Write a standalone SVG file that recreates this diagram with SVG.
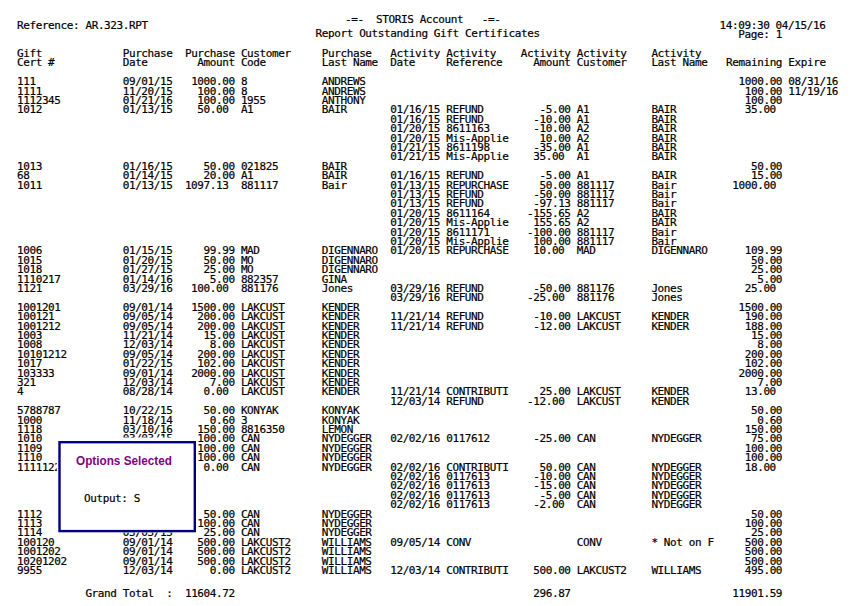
<svg xmlns="http://www.w3.org/2000/svg" width="858" height="606" viewBox="0 0 858 606">
<style>
.m{font-family:"DejaVu Sans Mono","Liberation Mono",monospace;font-size:11px;letter-spacing:-0.4px;fill:#000;stroke:#000;stroke-width:0.2px}
.r{text-anchor:end}
.ttl{font-family:"Liberation Sans",Arial,sans-serif;font-size:13px;font-weight:bold;fill:#800080}
</style>
<rect width="858" height="606" fill="#fff"/>
<g id="header">
<text class="m" x="17" y="28.8">Reference: AR.323.RPT</text>
<text class="m" x="345" y="23">-=-</text>
<text class="m" x="376.1" y="23">STORIS Account</text>
<text class="m" x="481.8" y="23">-=-</text>
<text class="m" x="315.6" y="37.2">Report Outstanding Gift Certificates</text>
<text class="m" x="719.6" y="28.8">14:09:30 04/15/16</text>
<text class="m" x="738.3" y="37.5">Page: 1</text>
</g>
<g id="column-headers">
<text class="m"><tspan x="17" y="57">Gift</tspan><tspan x="17" y="66.2">Cert #</tspan></text>
<text class="m"><tspan x="122.7" y="57">Purchase</tspan><tspan x="122.7" y="66.2">Date</tspan></text>
<text class="m r"><tspan x="234.7" y="57">Purchase</tspan><tspan x="234.7" y="66.2">Amount</tspan></text>
<text class="m"><tspan x="240.9" y="57">Customer</tspan><tspan x="240.9" y="66.2">Code</tspan></text>
<text class="m"><tspan x="321.8" y="57">Purchase</tspan><tspan x="321.8" y="66.2">Last Name</tspan></text>
<text class="m"><tspan x="390.2" y="57">Activity</tspan><tspan x="390.2" y="66.2">Date</tspan></text>
<text class="m"><tspan x="446.2" y="57">Activity</tspan><tspan x="446.2" y="66.2">Reference</tspan></text>
<text class="m r"><tspan x="570.6" y="57">Activity</tspan><tspan x="570.6" y="66.2">Amount</tspan></text>
<text class="m"><tspan x="576.8" y="57">Activity</tspan><tspan x="576.8" y="66.2">Customer</tspan></text>
<text class="m"><tspan x="651.4" y="57">Activity</tspan><tspan x="651.4" y="66.2">Last Name</tspan></text>
<text class="m"><tspan x="726.1" y="66.2">Remaining</tspan></text>
<text class="m"><tspan x="788.3" y="66.2">Expire</tspan></text>
</g>
<g id="col-cert">
<text class="m">
<tspan x="17" y="85.2">111</tspan><tspan x="17" y="94.6">1111</tspan><tspan x="17" y="104">1112345</tspan><tspan x="17" y="113.4">1012</tspan>
<tspan x="17" y="169.8">1013</tspan><tspan x="17" y="179.2">68</tspan><tspan x="17" y="188.6">1011</tspan>
<tspan x="17" y="254.4">1006</tspan><tspan x="17" y="263.8">1015</tspan><tspan x="17" y="273.2">1018</tspan><tspan x="17" y="282.6">1110217</tspan><tspan x="17" y="292">1121</tspan>
<tspan x="17" y="310.8">1001201</tspan><tspan x="17" y="320.2">100121</tspan><tspan x="17" y="329.6">1001212</tspan><tspan x="17" y="339">1003</tspan><tspan x="17" y="348.4">1008</tspan><tspan x="17" y="357.8">10101212</tspan><tspan x="17" y="367.2">1017</tspan><tspan x="17" y="376.6">103333</tspan><tspan x="17" y="386">321</tspan><tspan x="17" y="395.4">4</tspan>
<tspan x="17" y="414.2">5788787</tspan><tspan x="17" y="423.6">1000</tspan><tspan x="17" y="433">1118</tspan><tspan x="17" y="442.4">1010</tspan><tspan x="17" y="451.8">1109</tspan><tspan x="17" y="461.2">1110</tspan><tspan x="17" y="470.6">1111122</tspan>
<tspan x="17" y="517.6">1112</tspan><tspan x="17" y="527">1113</tspan><tspan x="17" y="536.4">1114</tspan><tspan x="17" y="545.8">100120</tspan><tspan x="17" y="555.2">1001202</tspan><tspan x="17" y="564.6">10201202</tspan><tspan x="17" y="574">9955</tspan>
</text>
</g>
<g id="col-purchase-date">
<text class="m">
<tspan x="122.7" y="85.2">09/01/15</tspan><tspan x="122.7" y="94.6">11/20/15</tspan><tspan x="122.7" y="104">01/21/16</tspan><tspan x="122.7" y="113.4">01/13/15</tspan>
<tspan x="122.7" y="169.8">01/16/15</tspan><tspan x="122.7" y="179.2">01/14/15</tspan><tspan x="122.7" y="188.6">01/13/15</tspan>
<tspan x="122.7" y="254.4">01/15/15</tspan><tspan x="122.7" y="263.8">01/20/15</tspan><tspan x="122.7" y="273.2">01/27/15</tspan><tspan x="122.7" y="282.6">01/14/16</tspan><tspan x="122.7" y="292">03/29/16</tspan>
<tspan x="122.7" y="310.8">09/01/14</tspan><tspan x="122.7" y="320.2">09/05/14</tspan><tspan x="122.7" y="329.6">09/05/14</tspan><tspan x="122.7" y="339">11/21/14</tspan><tspan x="122.7" y="348.4">12/03/14</tspan><tspan x="122.7" y="357.8">09/05/14</tspan><tspan x="122.7" y="367.2">01/22/15</tspan><tspan x="122.7" y="376.6">09/01/14</tspan><tspan x="122.7" y="386">12/03/14</tspan><tspan x="122.7" y="395.4">08/28/14</tspan>
<tspan x="122.7" y="414.2">10/22/15</tspan><tspan x="122.7" y="423.6">11/18/14</tspan><tspan x="122.7" y="433">03/10/16</tspan><tspan x="122.7" y="442.4">03/03/15</tspan>
<tspan x="122.7" y="536.4">05/05/15</tspan><tspan x="122.7" y="545.8">09/01/14</tspan><tspan x="122.7" y="555.2">09/01/14</tspan><tspan x="122.7" y="564.6">09/01/14</tspan><tspan x="122.7" y="574">12/03/14</tspan>
</text>
</g>
<g id="col-purchase-amount">
<text class="m r">
<tspan x="234.7" y="85.2">1000.00</tspan><tspan x="234.7" y="94.6">100.00</tspan><tspan x="234.7" y="104">100.00</tspan><tspan x="234.7" y="113.4">50.00</tspan>
<tspan x="234.7" y="169.8">50.00</tspan><tspan x="234.7" y="179.2">20.00</tspan><tspan x="234.7" y="188.6">1097.13</tspan>
<tspan x="234.7" y="254.4">99.99</tspan><tspan x="234.7" y="263.8">50.00</tspan><tspan x="234.7" y="273.2">25.00</tspan><tspan x="234.7" y="282.6">5.00</tspan><tspan x="234.7" y="292">100.00</tspan>
<tspan x="234.7" y="310.8">1500.00</tspan><tspan x="234.7" y="320.2">200.00</tspan><tspan x="234.7" y="329.6">200.00</tspan><tspan x="234.7" y="339">15.00</tspan><tspan x="234.7" y="348.4">8.00</tspan><tspan x="234.7" y="357.8">200.00</tspan><tspan x="234.7" y="367.2">102.00</tspan><tspan x="234.7" y="376.6">2000.00</tspan><tspan x="234.7" y="386">7.00</tspan><tspan x="234.7" y="395.4">0.00</tspan>
<tspan x="234.7" y="414.2">50.00</tspan><tspan x="234.7" y="423.6">0.60</tspan><tspan x="234.7" y="433">150.00</tspan><tspan x="234.7" y="442.4">100.00</tspan><tspan x="234.7" y="451.8">100.00</tspan><tspan x="234.7" y="461.2">100.00</tspan><tspan x="234.7" y="470.6">0.00</tspan>
<tspan x="234.7" y="517.6">50.00</tspan><tspan x="234.7" y="527">100.00</tspan><tspan x="234.7" y="536.4">25.00</tspan><tspan x="234.7" y="545.8">500.00</tspan><tspan x="234.7" y="555.2">500.00</tspan><tspan x="234.7" y="564.6">500.00</tspan><tspan x="234.7" y="574">0.00</tspan>
</text>
</g>
<g id="col-customer">
<text class="m">
<tspan x="240.9" y="85.2">8</tspan><tspan x="240.9" y="94.6">8</tspan><tspan x="240.9" y="104">1955</tspan><tspan x="240.9" y="113.4">A1</tspan>
<tspan x="240.9" y="169.8">021825</tspan><tspan x="240.9" y="179.2">A1</tspan><tspan x="240.9" y="188.6">881117</tspan>
<tspan x="240.9" y="254.4">MAD</tspan><tspan x="240.9" y="263.8">MO</tspan><tspan x="240.9" y="273.2">MO</tspan><tspan x="240.9" y="282.6">882357</tspan><tspan x="240.9" y="292">881176</tspan>
<tspan x="240.9" y="310.8">LAKCUST</tspan><tspan x="240.9" y="320.2">LAKCUST</tspan><tspan x="240.9" y="329.6">LAKCUST</tspan><tspan x="240.9" y="339">LAKCUST</tspan><tspan x="240.9" y="348.4">LAKCUST</tspan><tspan x="240.9" y="357.8">LAKCUST</tspan><tspan x="240.9" y="367.2">LAKCUST</tspan><tspan x="240.9" y="376.6">LAKCUST</tspan><tspan x="240.9" y="386">LAKCUST</tspan><tspan x="240.9" y="395.4">LAKCUST</tspan>
<tspan x="240.9" y="414.2">KONYAK</tspan><tspan x="240.9" y="423.6">3</tspan><tspan x="240.9" y="433">8816350</tspan><tspan x="240.9" y="442.4">CAN</tspan><tspan x="240.9" y="451.8">CAN</tspan><tspan x="240.9" y="461.2">CAN</tspan><tspan x="240.9" y="470.6">CAN</tspan>
<tspan x="240.9" y="517.6">CAN</tspan><tspan x="240.9" y="527">CAN</tspan><tspan x="240.9" y="536.4">CAN</tspan><tspan x="240.9" y="545.8">LAKCUST2</tspan><tspan x="240.9" y="555.2">LAKCUST2</tspan><tspan x="240.9" y="564.6">LAKCUST2</tspan><tspan x="240.9" y="574">LAKCUST2</tspan>
</text>
</g>
<g id="col-last-name">
<text class="m">
<tspan x="321.8" y="85.2">ANDREWS</tspan><tspan x="321.8" y="94.6">ANDREWS</tspan><tspan x="321.8" y="104">ANTHONY</tspan><tspan x="321.8" y="113.4">BAIR</tspan>
<tspan x="321.8" y="169.8">BAIR</tspan><tspan x="321.8" y="179.2">BAIR</tspan><tspan x="321.8" y="188.6">Bair</tspan>
<tspan x="321.8" y="254.4">DIGENNARO</tspan><tspan x="321.8" y="263.8">DIGENNARO</tspan><tspan x="321.8" y="273.2">DIGENNARO</tspan><tspan x="321.8" y="282.6">GINA</tspan><tspan x="321.8" y="292">Jones</tspan>
<tspan x="321.8" y="310.8">KENDER</tspan><tspan x="321.8" y="320.2">KENDER</tspan><tspan x="321.8" y="329.6">KENDER</tspan><tspan x="321.8" y="339">KENDER</tspan><tspan x="321.8" y="348.4">KENDER</tspan><tspan x="321.8" y="357.8">KENDER</tspan><tspan x="321.8" y="367.2">KENDER</tspan><tspan x="321.8" y="376.6">KENDER</tspan><tspan x="321.8" y="386">KENDER</tspan><tspan x="321.8" y="395.4">KENDER</tspan>
<tspan x="321.8" y="414.2">KONYAK</tspan><tspan x="321.8" y="423.6">KONYAK</tspan><tspan x="321.8" y="433">LEMON</tspan><tspan x="321.8" y="442.4">NYDEGGER</tspan><tspan x="321.8" y="451.8">NYDEGGER</tspan><tspan x="321.8" y="461.2">NYDEGGER</tspan><tspan x="321.8" y="470.6">NYDEGGER</tspan>
<tspan x="321.8" y="517.6">NYDEGGER</tspan><tspan x="321.8" y="527">NYDEGGER</tspan><tspan x="321.8" y="536.4">NYDEGGER</tspan><tspan x="321.8" y="545.8">WILLIAMS</tspan><tspan x="321.8" y="555.2">WILLIAMS</tspan><tspan x="321.8" y="564.6">WILLIAMS</tspan><tspan x="321.8" y="574">WILLIAMS</tspan>
</text>
</g>
<g id="col-activity-date">
<text class="m">
<tspan x="390.2" y="113.4">01/16/15</tspan><tspan x="390.2" y="122.8">01/16/15</tspan><tspan x="390.2" y="132.2">01/20/15</tspan><tspan x="390.2" y="141.6">01/20/15</tspan><tspan x="390.2" y="151">01/21/15</tspan><tspan x="390.2" y="160.4">01/21/15</tspan>
<tspan x="390.2" y="179.2">01/16/15</tspan><tspan x="390.2" y="188.6">01/13/15</tspan><tspan x="390.2" y="198">01/13/15</tspan><tspan x="390.2" y="207.4">01/13/15</tspan><tspan x="390.2" y="216.8">01/20/15</tspan><tspan x="390.2" y="226.2">01/20/15</tspan><tspan x="390.2" y="235.6">01/20/15</tspan><tspan x="390.2" y="245">01/20/15</tspan><tspan x="390.2" y="254.4">01/20/15</tspan>
<tspan x="390.2" y="292">03/29/16</tspan><tspan x="390.2" y="301.4">03/29/16</tspan>
<tspan x="390.2" y="320.2">11/21/14</tspan><tspan x="390.2" y="329.6">11/21/14</tspan><tspan x="390.2" y="395.4">11/21/14</tspan><tspan x="390.2" y="404.8">12/03/14</tspan>
<tspan x="390.2" y="442.4">02/02/16</tspan><tspan x="390.2" y="470.6">02/02/16</tspan><tspan x="390.2" y="480">02/02/16</tspan><tspan x="390.2" y="489.4">02/02/16</tspan><tspan x="390.2" y="498.8">02/02/16</tspan><tspan x="390.2" y="508.2">02/02/16</tspan>
<tspan x="390.2" y="545.8">09/05/14</tspan><tspan x="390.2" y="574">12/03/14</tspan>
</text>
</g>
<g id="col-activity-reference">
<text class="m">
<tspan x="446.2" y="113.4">REFUND</tspan><tspan x="446.2" y="122.8">REFUND</tspan><tspan x="446.2" y="132.2">8611163</tspan><tspan x="446.2" y="141.6">Mis-Applie</tspan><tspan x="446.2" y="151">8611198</tspan><tspan x="446.2" y="160.4">Mis-Applie</tspan>
<tspan x="446.2" y="179.2">REFUND</tspan><tspan x="446.2" y="188.6">REPURCHASE</tspan><tspan x="446.2" y="198">REFUND</tspan><tspan x="446.2" y="207.4">REFUND</tspan><tspan x="446.2" y="216.8">8611164</tspan><tspan x="446.2" y="226.2">Mis-Applie</tspan><tspan x="446.2" y="235.6">8611171</tspan><tspan x="446.2" y="245">Mis-Applie</tspan><tspan x="446.2" y="254.4">REPURCHASE</tspan>
<tspan x="446.2" y="292">REFUND</tspan><tspan x="446.2" y="301.4">REFUND</tspan>
<tspan x="446.2" y="320.2">REFUND</tspan><tspan x="446.2" y="329.6">REFUND</tspan><tspan x="446.2" y="395.4">CONTRIBUTI</tspan><tspan x="446.2" y="404.8">REFUND</tspan>
<tspan x="446.2" y="442.4">0117612</tspan><tspan x="446.2" y="470.6">CONTRIBUTI</tspan><tspan x="446.2" y="480">0117613</tspan><tspan x="446.2" y="489.4">0117613</tspan><tspan x="446.2" y="498.8">0117613</tspan><tspan x="446.2" y="508.2">0117613</tspan>
<tspan x="446.2" y="545.8">CONV</tspan><tspan x="446.2" y="574">CONTRIBUTI</tspan>
</text>
</g>
<g id="col-activity-amount">
<text class="m r">
<tspan x="570.6" y="113.4">-5.00</tspan><tspan x="570.6" y="122.8">-10.00</tspan><tspan x="570.6" y="132.2">-10.00</tspan><tspan x="570.6" y="141.6">10.00</tspan><tspan x="570.6" y="151">-35.00</tspan><tspan x="570.6" y="160.4">35.00</tspan>
<tspan x="570.6" y="179.2">-5.00</tspan><tspan x="570.6" y="188.6">50.00</tspan><tspan x="570.6" y="198">-50.00</tspan><tspan x="570.6" y="207.4">-97.13</tspan><tspan x="570.6" y="216.8">-155.65</tspan><tspan x="570.6" y="226.2">155.65</tspan><tspan x="570.6" y="235.6">-100.00</tspan><tspan x="570.6" y="245">100.00</tspan><tspan x="570.6" y="254.4">10.00</tspan>
<tspan x="570.6" y="292">-50.00</tspan><tspan x="570.6" y="301.4">-25.00</tspan>
<tspan x="570.6" y="320.2">-10.00</tspan><tspan x="570.6" y="329.6">-12.00</tspan><tspan x="570.6" y="395.4">25.00</tspan><tspan x="570.6" y="404.8">-12.00</tspan>
<tspan x="570.6" y="442.4">-25.00</tspan><tspan x="570.6" y="470.6">50.00</tspan><tspan x="570.6" y="480">-10.00</tspan><tspan x="570.6" y="489.4">-15.00</tspan><tspan x="570.6" y="498.8">-5.00</tspan><tspan x="570.6" y="508.2">-2.00</tspan>
<tspan x="570.6" y="574">500.00</tspan>
</text>
</g>
<g id="col-activity-customer">
<text class="m">
<tspan x="576.8" y="113.4">A1</tspan><tspan x="576.8" y="122.8">A1</tspan><tspan x="576.8" y="132.2">A2</tspan><tspan x="576.8" y="141.6">A2</tspan><tspan x="576.8" y="151">A1</tspan><tspan x="576.8" y="160.4">A1</tspan>
<tspan x="576.8" y="179.2">A1</tspan><tspan x="576.8" y="188.6">881117</tspan><tspan x="576.8" y="198">881117</tspan><tspan x="576.8" y="207.4">881117</tspan><tspan x="576.8" y="216.8">A2</tspan><tspan x="576.8" y="226.2">A2</tspan><tspan x="576.8" y="235.6">881117</tspan><tspan x="576.8" y="245">881117</tspan><tspan x="576.8" y="254.4">MAD</tspan>
<tspan x="576.8" y="292">881176</tspan><tspan x="576.8" y="301.4">881176</tspan>
<tspan x="576.8" y="320.2">LAKCUST</tspan><tspan x="576.8" y="329.6">LAKCUST</tspan><tspan x="576.8" y="395.4">LAKCUST</tspan><tspan x="576.8" y="404.8">LAKCUST</tspan>
<tspan x="576.8" y="442.4">CAN</tspan><tspan x="576.8" y="470.6">CAN</tspan><tspan x="576.8" y="480">CAN</tspan><tspan x="576.8" y="489.4">CAN</tspan><tspan x="576.8" y="498.8">CAN</tspan><tspan x="576.8" y="508.2">CAN</tspan>
<tspan x="576.8" y="545.8">CONV</tspan><tspan x="576.8" y="574">LAKCUST2</tspan>
</text>
</g>
<g id="col-activity-last-name">
<text class="m">
<tspan x="651.4" y="113.4">BAIR</tspan><tspan x="651.4" y="122.8">BAIR</tspan><tspan x="651.4" y="132.2">BAIR</tspan><tspan x="651.4" y="141.6">BAIR</tspan><tspan x="651.4" y="151">BAIR</tspan><tspan x="651.4" y="160.4">BAIR</tspan>
<tspan x="651.4" y="179.2">BAIR</tspan><tspan x="651.4" y="188.6">Bair</tspan><tspan x="651.4" y="198">Bair</tspan><tspan x="651.4" y="207.4">Bair</tspan><tspan x="651.4" y="216.8">BAIR</tspan><tspan x="651.4" y="226.2">BAIR</tspan><tspan x="651.4" y="235.6">Bair</tspan><tspan x="651.4" y="245">Bair</tspan><tspan x="651.4" y="254.4">DIGENNARO</tspan>
<tspan x="651.4" y="292">Jones</tspan><tspan x="651.4" y="301.4">Jones</tspan>
<tspan x="651.4" y="320.2">KENDER</tspan><tspan x="651.4" y="329.6">KENDER</tspan><tspan x="651.4" y="395.4">KENDER</tspan><tspan x="651.4" y="404.8">KENDER</tspan>
<tspan x="651.4" y="442.4">NYDEGGER</tspan><tspan x="651.4" y="470.6">NYDEGGER</tspan><tspan x="651.4" y="480">NYDEGGER</tspan><tspan x="651.4" y="489.4">NYDEGGER</tspan><tspan x="651.4" y="498.8">NYDEGGER</tspan><tspan x="651.4" y="508.2">NYDEGGER</tspan>
<tspan x="651.4" y="545.8">* Not on F</tspan><tspan x="651.4" y="574">WILLIAMS</tspan>
</text>
</g>
<g id="col-remaining">
<text class="m r">
<tspan x="782.1" y="85.2">1000.00</tspan><tspan x="782.1" y="94.6">100.00</tspan><tspan x="782.1" y="104">100.00</tspan><tspan x="782.1" y="113.4">35.00</tspan>
<tspan x="782.1" y="169.8">50.00</tspan><tspan x="782.1" y="179.2">15.00</tspan><tspan x="782.1" y="188.6">1000.00</tspan>
<tspan x="782.1" y="254.4">109.99</tspan><tspan x="782.1" y="263.8">50.00</tspan><tspan x="782.1" y="273.2">25.00</tspan><tspan x="782.1" y="282.6">5.00</tspan><tspan x="782.1" y="292">25.00</tspan>
<tspan x="782.1" y="310.8">1500.00</tspan><tspan x="782.1" y="320.2">190.00</tspan><tspan x="782.1" y="329.6">188.00</tspan><tspan x="782.1" y="339">15.00</tspan><tspan x="782.1" y="348.4">8.00</tspan><tspan x="782.1" y="357.8">200.00</tspan><tspan x="782.1" y="367.2">102.00</tspan><tspan x="782.1" y="376.6">2000.00</tspan><tspan x="782.1" y="386">7.00</tspan><tspan x="782.1" y="395.4">13.00</tspan>
<tspan x="782.1" y="414.2">50.00</tspan><tspan x="782.1" y="423.6">0.60</tspan><tspan x="782.1" y="433">150.00</tspan><tspan x="782.1" y="442.4">75.00</tspan><tspan x="782.1" y="451.8">100.00</tspan><tspan x="782.1" y="461.2">100.00</tspan><tspan x="782.1" y="470.6">18.00</tspan>
<tspan x="782.1" y="517.6">50.00</tspan><tspan x="782.1" y="527">100.00</tspan><tspan x="782.1" y="536.4">25.00</tspan><tspan x="782.1" y="545.8">500.00</tspan><tspan x="782.1" y="555.2">500.00</tspan><tspan x="782.1" y="564.6">500.00</tspan><tspan x="782.1" y="574">495.00</tspan>
</text>
</g>
<g id="col-expire">
<text class="m"><tspan x="788.3" y="85.2">08/31/16</tspan><tspan x="788.3" y="94.6">11/19/16</tspan></text>
</g>
<g id="grand-total">
<text class="m" x="85.4" y="596.5">Grand Total</text>
<text class="m" x="166.3" y="596.5">:</text>
<text class="m r" x="234.7" y="596.5">11604.72</text>
<text class="m r" x="570.6" y="596.5">296.87</text>
<text class="m r" x="782.1" y="596.5">11901.59</text>
</g>
<g id="options-selected">
<rect x="56.8" y="437.5" width="140" height="95" fill="#fff"/>
<rect x="59.5" y="442.2" width="135.3" height="88.9" fill="#fff" stroke="#000080" stroke-width="2.4"/>
<text class="ttl" x="76" y="465" textLength="96" lengthAdjust="spacingAndGlyphs">Options Selected</text>
<text class="m" x="84" y="501.5">Output: S</text>
</g>
</svg>
